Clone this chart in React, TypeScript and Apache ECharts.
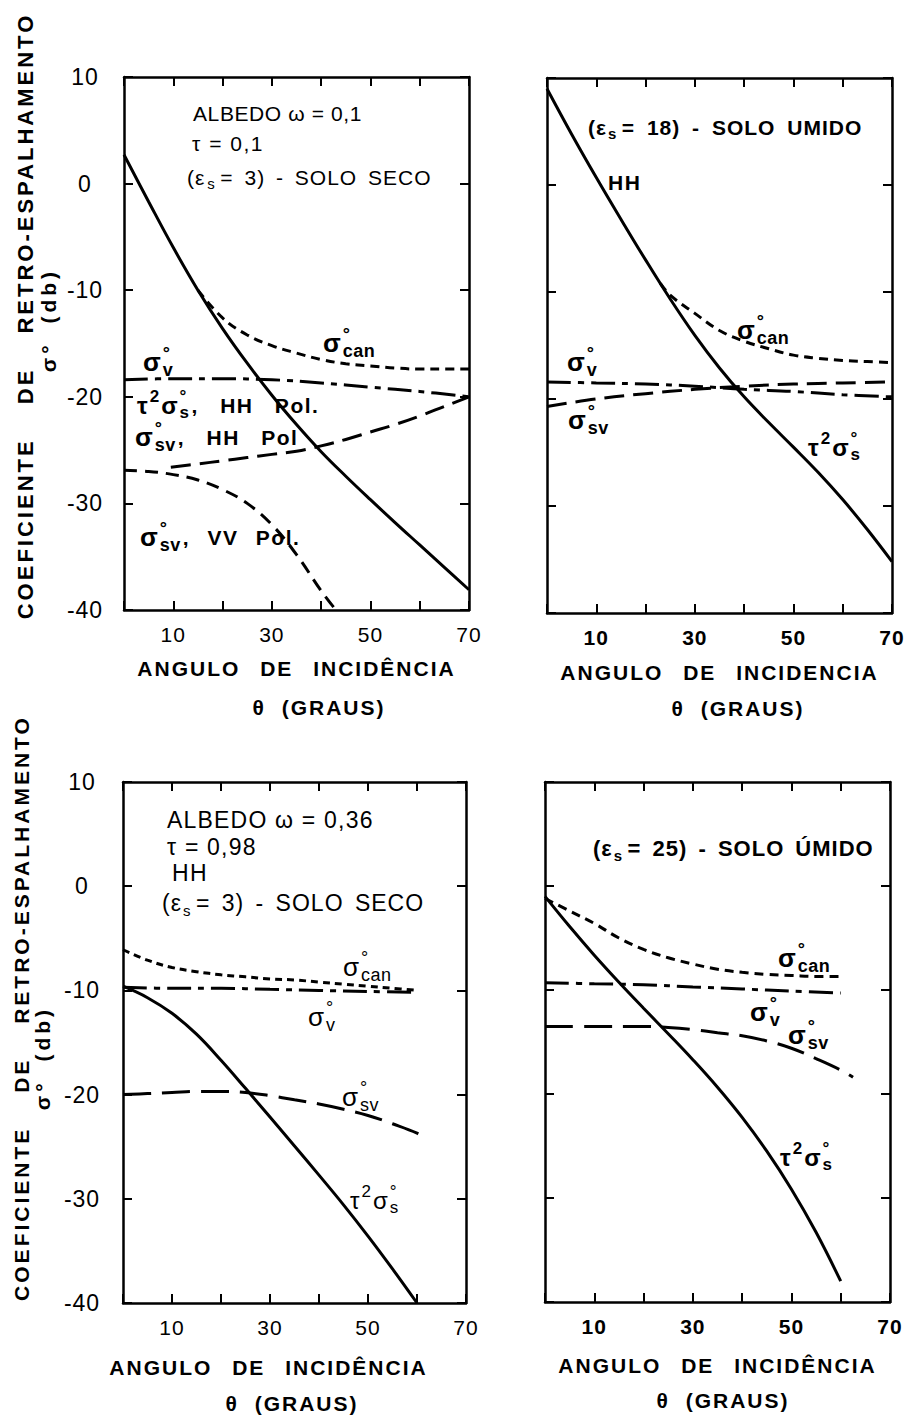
import React, { useEffect, useRef } from 'react';
import * as echarts from 'echarts';

const FONT = '"Liberation Sans", "DejaVu Sans", Arial, sans-serif';

// ---- axes ----
const X_MIN = 0;
const X_MAX = 70;
const X_STEP = 10;
const X_LABELS = [10, 30, 50, 70];
const Y_MIN = -40;
const Y_MAX = 10;
const Y_STEP = 10;

// ---- Panel A: solo seco (εs = 3), albedo 0,1, τ = 0,1 ----
const A_tau2SigmaS = [[0, 2.7], [5, -1.7], [10, -6.0], [15, -10.0], [20, -13.6], [25, -16.85], [30, -19.85], [35, -22.6], [40, -25.15], [45, -27.45], [50, -29.65], [55, -31.8], [60, -33.9], [65, -36.0], [70, -38.1]];
const A_sigmaCan = [[15, -10.0], [20, -12.6], [25, -14.2], [30, -15.2], [35, -15.9], [40, -16.5], [45, -16.9], [50, -17.1], [55, -17.3], [60, -17.4], [65, -17.4], [70, -17.4]];
const A_sigmaV = [[0, -18.4], [10, -18.3], [20, -18.3], [30, -18.4], [40, -18.7], [50, -19.1], [60, -19.5], [70, -20.0]];
const A_sigmaSvHH = [[9.5, -26.6], [15, -26.3], [20, -26.0], [25, -25.7], [30, -25.4], [35, -25.1], [40, -24.6], [45, -24.0], [50, -23.3], [55, -22.6], [60, -21.8], [65, -20.9], [70, -20.0]];
const A_sigmaSvVV = [[0, -26.9], [5, -27.0], [10, -27.3], [15, -27.8], [20, -28.7], [25, -30.0], [30, -32.0], [35, -34.8], [40, -38.2], [43, -40.0]];

// ---- Panel B: solo úmido (εs = 18), HH ----
const B_tau2SigmaS = [[0, 9.0], [5, 4.75], [10, 0.7], [15, -3.2], [20, -7.0], [25, -10.65], [30, -14.05], [35, -17.1], [40, -19.8], [45, -22.2], [50, -24.5], [55, -26.85], [60, -29.4], [65, -32.2], [70, -35.2]];
const B_sigmaCan = [[23, -9.2], [25, -10.3], [30, -12.0], [35, -13.6], [40, -14.6], [45, -15.3], [50, -15.9], [55, -16.2], [60, -16.4], [65, -16.5], [70, -16.6]];
const B_sigmaV = [[0, -18.4], [10, -18.5], [20, -18.6], [30, -18.8], [40, -19.1], [50, -19.3], [60, -19.6], [70, -19.8]];
const B_sigmaSv = [[0, -20.7], [10, -20.0], [20, -19.5], [30, -19.1], [40, -18.8], [50, -18.6], [60, -18.5], [70, -18.4]];

// ---- Panel C: solo seco (εs = 3), albedo 0,36, τ = 0,98, HH ----
const C_tau2SigmaS = [[0, -9.6], [5, -10.7], [10, -12.2], [15, -14.2], [20, -16.7], [25, -19.4], [30, -22.15], [35, -24.93], [40, -27.73], [45, -30.58], [50, -33.58], [55, -36.73], [60, -40.0]];
const C_sigmaCan = [[0, -6.1], [5, -7.1], [10, -7.8], [15, -8.2], [20, -8.5], [25, -8.7], [30, -8.9], [35, -9.0], [40, -9.2], [45, -9.4], [50, -9.6], [55, -9.8], [60, -10.0]];
const C_sigmaV = [[0, -9.7], [10, -9.8], [20, -9.8], [30, -9.9], [40, -10.0], [50, -10.1], [60, -10.2]];
const C_sigmaSv = [[0, -20.0], [5, -19.9], [10, -19.8], [15, -19.7], [20, -19.7], [25, -19.8], [30, -20.1], [35, -20.5], [40, -20.9], [45, -21.4], [50, -22.0], [55, -22.8], [60, -23.7], [62, -24.3]];

// ---- Panel D: solo úmido (εs = 25) ----
const D_tau2SigmaS = [[0, -1.0], [5, -3.9], [10, -6.65], [15, -9.25], [20, -11.75], [25, -14.2], [30, -16.7], [35, -19.35], [40, -22.25], [45, -25.5], [50, -29.15], [55, -33.3], [60, -38.0]];
const D_sigmaCan = [[0, -1.2], [5, -2.4], [10, -3.6], [15, -5.0], [20, -6.1], [25, -6.9], [30, -7.5], [35, -8.0], [40, -8.3], [45, -8.5], [50, -8.6], [55, -8.7], [60, -8.7]];
const D_sigmaV = [[0, -9.3], [10, -9.4], [20, -9.5], [30, -9.7], [40, -9.9], [50, -10.1], [60, -10.3]];
const D_sigmaSv = [[0, -13.5], [10, -13.5], [20, -13.5], [25, -13.6], [30, -13.8], [35, -14.1], [40, -14.4], [45, -14.9], [50, -15.6], [55, -16.6], [60, -17.7], [62.5, -18.4]];

const SOLID = 'solid';
const DASH_CAN = [9, 6];
const DASH_V = [24, 7, 6, 7];
const DASH_SV = [20, 9];
const DASH_SV_LONG = [28, 11];
const DASH_VV = [13, 8];

type Tok = { t?: string; fs?: number; sup?: string; sub?: string; gap?: number; ls?: number; ws?: number };
type FOpt = { fs: number; weight?: string; small?: number; ls?: number };

export default function App() {
  const ref = useRef<HTMLDivElement>(null);

  useEffect(() => {
    if (!ref.current) return;
    const chart = echarts.init(ref.current, undefined, { renderer: 'svg' });
    const spacing = new Map<string, [number, number]>();
    const ctx = document.createElement('canvas').getContext('2d')!;
    const measure = (s: string, fs: number, w: string) => {
      ctx.font = `${w} ${fs}px ${FONT}`;
      return ctx.measureText(s).width;
    };

    const txt = (s: string, x: number, y: number, fs: number, weight: string, align = 'left') => ({
      type: 'text',
      x,
      y,
      silent: true,
      style: {
        text: s,
        fontSize: fs,
        fontFamily: FONT,
        fontWeight: weight,
        fill: '#000',
        textAlign: align,
        verticalAlign: 'middle',
        textVerticalAlign: 'middle',
      },
    });

    const formula = (x: number, y: number, toks: Tok[], o: FOpt) => {
      const weight = o.weight ?? 'normal';
      const small = o.small ?? 17;
      const children: any[] = [];
      let cx = x;
      for (const tk of toks) {
        cx += tk.gap ?? 0;
        const fs = tk.fs ?? o.fs;
        if (tk.t) {
          const ls = tk.ls ?? o.ls ?? 1;
          const ws = tk.ws ?? 0;
          spacing.set(tk.t, [ls, ws]);
          children.push(txt(tk.t, cx, y, fs, weight));
          cx += measure(tk.t, fs, weight) + ls * [...tk.t].length + ws * (tk.t.split(' ').length - 1);
        }
        if (tk.sup || tk.sub) {
          let w = 0;
          if (tk.sup) {
            spacing.set(tk.sup, [0, 0]);
            children.push(txt(tk.sup, cx + 1, y - 0.36 * fs, small, weight));
            w = Math.max(w, measure(tk.sup, small, weight));
          }
          if (tk.sub) {
            spacing.set(tk.sub, [0.5, 0]);
            children.push(txt(tk.sub, cx + 1, y + 0.32 * fs, small, weight));
            w = Math.max(w, measure(tk.sub, small, weight) + 0.5 * tk.sub.length);
          }
          cx += w + 3;
        }
      }
      return { type: 'group', children };
    };

    const sigma = (x: number, y: number, sub: string, weight: string) =>
      formula(x, y, [{ t: 'σ', fs: 26, sup: '°', sub }], { fs: 26, weight, small: 18 });
    const tauSigma = (x: number, y: number, weight: string, tail?: Tok) =>
      formula(x, y, [{ t: 'τ', fs: 24, sup: '2' }, { t: 'σ', fs: 24, sup: '°', sub: 's' }, ...(tail ? [tail] : [])], {
        fs: 24,
        weight,
        small: 17,
      });

    const grids = [
      { left: 124, top: 77, width: 345, height: 533 },
      { left: 547, top: 78, width: 345, height: 535 },
      { left: 123, top: 782, width: 343, height: 521 },
      { left: 545, top: 782, width: 345, height: 520 },
    ];
    const panels = [
      { bold: false, yLabels: true, yMargin: 39, name: 'ANGULO DE INCIDÊNCIA', nameGap: 58, namePad: [0, 0, 0, 0] },
      { bold: true, yLabels: false, yMargin: 39, name: 'ANGULO DE INCIDENCIA', nameGap: 59, namePad: [0, 0, 0, 0] },
      { bold: false, yLabels: true, yMargin: 41, name: 'ANGULO DE INCIDÊNCIA', nameGap: 64, namePad: [0, 52, 0, 0] },
      { bold: true, yLabels: false, yMargin: 39, name: 'ANGULO DE INCIDÊNCIA', nameGap: 63, namePad: [0, 0, 0, 0] },
    ];
    const mkLine = () => ({ show: true, onZero: false, lineStyle: { color: '#000', width: 2.5, opacity: 1 } });
    const mkTick = () => ({ show: true, inside: true, length: 9, lineStyle: { color: '#000', width: 2, opacity: 1 } });

    const xAxis: any[] = [];
    const yAxis: any[] = [];
    panels.forEach((p, i) => {
      spacing.set(p.name, [2, 12]);
      xAxis.push({
        gridIndex: i,
        type: 'value',
        min: X_MIN,
        max: X_MAX,
        interval: X_STEP,
        position: 'bottom',
        axisLine: mkLine(),
        axisTick: mkTick(),
        splitLine: { show: false },
        axisLabel: {
          show: true,
          color: '#000',
          fontFamily: FONT,
          fontSize: 21,
          fontWeight: p.bold ? 'bold' : 'normal',
          margin: 14,
          formatter: (v: number) => (X_LABELS.includes(v) ? String(v) : ''),
        },
        name: p.name,
        nameLocation: 'middle',
        nameGap: p.nameGap,
        nameTextStyle: {
          color: '#000',
          fontFamily: FONT,
          fontSize: 21,
          fontWeight: 'bold',
          verticalAlign: 'middle',
          padding: p.namePad,
        },
      });
      xAxis.push({
        gridIndex: i,
        type: 'value',
        min: X_MIN,
        max: X_MAX,
        interval: X_STEP,
        position: 'top',
        axisLine: mkLine(),
        axisTick: mkTick(),
        splitLine: { show: false },
        axisLabel: { show: false },
      });
      yAxis.push({
        gridIndex: i,
        type: 'value',
        min: Y_MIN,
        max: Y_MAX,
        interval: Y_STEP,
        position: 'left',
        axisLine: mkLine(),
        axisTick: mkTick(),
        splitLine: { show: false },
        axisLabel: {
          show: p.yLabels,
          color: '#000',
          fontFamily: FONT,
          fontSize: 23,
          align: 'center',
          margin: p.yMargin,
        },
      });
      yAxis.push({
        gridIndex: i,
        type: 'value',
        min: Y_MIN,
        max: Y_MAX,
        interval: Y_STEP,
        position: 'right',
        axisLine: mkLine(),
        axisTick: mkTick(),
        splitLine: { show: false },
        axisLabel: { show: false },
      });
    });

    const line = (name: string, data: number[][], p: number, type: any, width = 3) => ({
      type: 'line',
      name,
      data,
      xAxisIndex: 2 * p,
      yAxisIndex: 2 * p,
      showSymbol: false,
      symbol: 'none',
      smooth: 0.4,
      silent: true,
      lineStyle: { color: '#000', width, type, cap: 'butt' },
      z: 3,
    });

    const series = [
      line('τ²σs° (A)', A_tau2SigmaS, 0, SOLID),
      line('σcan° (A)', A_sigmaCan, 0, DASH_CAN),
      line('σv° (A)', A_sigmaV, 0, DASH_V),
      line('σsv° HH (A)', A_sigmaSvHH, 0, DASH_SV),
      line('σsv° VV (A)', A_sigmaSvVV, 0, DASH_VV),
      line('τ²σs° (B)', B_tau2SigmaS, 1, SOLID),
      line('σcan° (B)', B_sigmaCan, 1, DASH_CAN),
      line('σv° (B)', B_sigmaV, 1, DASH_V),
      line('σsv° (B)', B_sigmaSv, 1, DASH_SV),
      line('τ²σs° (C)', C_tau2SigmaS, 2, SOLID),
      line('σcan° (C)', C_sigmaCan, 2, [7, 5]),
      line('σv° (C)', C_sigmaV, 2, DASH_V),
      line('σsv° (C)', C_sigmaSv, 2, DASH_SV_LONG),
      line('τ²σs° (D)', D_tau2SigmaS, 3, SOLID),
      line('σcan° (D)', D_sigmaCan, 3, DASH_CAN),
      line('σv° (D)', D_sigmaV, 3, DASH_V),
      line('σsv° (D)', D_sigmaSv, 3, DASH_SV_LONG),
    ];

    const yTitle = (x: number, y: number, text: string, fs: number, ls: number, ws: number, weight = 'bold') => {
      spacing.set(text, [ls, ws]);
      return { ...txt(text, x, y, fs, weight, 'center'), rotation: Math.PI / 2 };
    };
    const centered = (x: number, y: number, text: string, fs: number, ls: number, ws: number) => {
      spacing.set(text, [ls, ws]);
      return txt(text, x, y, fs, 'bold', 'center');
    };

    const N = 'normal';
    const B = 'bold';
    const graphics: any[] = [
      // y titles
      yTitle(25, 316, 'COEFICIENTE DE RETRO-ESPALHAMENTO', 22, 3, 28),
      yTitle(48, 320, 'σ° (db)', 21, 9, 10),
      yTitle(21, 1008, 'COEFICIENTE DE RETRO-ESPALHAMENTO', 21, 3, 25),
      yTitle(42, 1058, 'σ° (db)', 21, 4, 8),
      // θ (GRAUS)
      centered(319, 707, 'θ (GRAUS)', 21, 2, 8),
      centered(738, 708, 'θ (GRAUS)', 21, 2, 8),
      centered(292, 1403, 'θ (GRAUS)', 21, 2, 8),
      centered(723, 1400, 'θ (GRAUS)', 21, 2, 8),
      // Panel A
      formula(193, 113, [{ t: 'ALBEDO ω = 0,1' }], { fs: 21, weight: N, ls: 0.6 }),
      formula(192, 143, [{ t: 'τ = 0,1' }], { fs: 21, weight: N, ls: 1.5 }),
      formula(187, 177, [{ t: '(ε', sub: 's' }, { t: '= 3) - SOLO SECO', gap: 3, ws: 4 }], { fs: 21, weight: N, ls: 1.5, small: 15 }),
      sigma(323, 343, 'can', B),
      sigma(143, 362, 'v', B),
      tauSigma(137, 405, B, { t: ', HH Pol.', fs: 21, ws: 14, ls: 1.5 }),
      formula(135, 437, [{ t: 'σ', fs: 26, sup: '°', sub: 'sv' }, { t: ', HH Pol', fs: 21, ws: 14, ls: 1.5 }], { fs: 26, weight: B, small: 18 }),
      formula(140, 537, [{ t: 'σ', fs: 26, sup: '°', sub: 'sv' }, { t: ', VV Pol.', fs: 21, ws: 10, ls: 1.5 }], { fs: 26, weight: B, small: 18 }),
      // Panel B
      formula(588, 127, [{ t: '(ε', sub: 's' }, { t: '= 18) - SOLO UMIDO', gap: 3, ws: 5 }], { fs: 21, weight: B, ls: 1, small: 15 }),
      formula(608, 182, [{ t: 'HH' }], { fs: 21, weight: B, ls: 1 }),
      sigma(737, 330, 'can', B),
      sigma(567, 362, 'v', B),
      sigma(568, 420, 'sv', B),
      tauSigma(808, 447, B),
      // Panel C
      formula(167, 820, [{ t: 'ALBEDO ω = 0,36' }], { fs: 23, weight: N, ls: 1.2 }),
      formula(167, 847, [{ t: 'τ = 0,98' }], { fs: 23, weight: N, ls: 1.2 }),
      formula(172, 873, [{ t: 'HH' }], { fs: 23, weight: N, ls: 1.5 }),
      formula(162, 903, [{ t: '(ε', sub: 's' }, { t: '= 3) - SOLO SECO', gap: 3, ws: 4 }], { fs: 23, weight: N, ls: 1, small: 15 }),
      sigma(343, 967, 'can', N),
      sigma(308, 1017, 'v', N),
      sigma(342, 1097, 'sv', N),
      tauSigma(350, 1200, N),
      // Panel D
      formula(593, 848, [{ t: '(ε', sub: 's' }, { t: '= 25) - SOLO ÚMIDO', gap: 3, ws: 4 }], { fs: 22, weight: B, ls: 1, small: 15 }),
      sigma(778, 958, 'can', B),
      sigma(750, 1012, 'v', B),
      sigma(788, 1035, 'sv', B),
      tauSigma(780, 1157, B),
    ];

    chart.setOption({
      animation: false,
      backgroundColor: '#ffffff',
      grid: grids.map((g) => ({ ...g, containLabel: false })),
      xAxis,
      yAxis,
      series,
      graphic: { elements: graphics },
    });

    const apply = () => {
      const root = ref.current;
      if (!root) return;
      root.querySelectorAll('text').forEach((t) => {
        const key = t.textContent || '';
        const s = spacing.get(key) ?? [1, 0];
        (t as SVGTextElement).style.letterSpacing = `${s[0]}px`;
        (t as SVGTextElement).style.wordSpacing = `${s[1]}px`;
      });
    };
    apply();
    chart.on('finished', apply);
    const raf = requestAnimationFrame(apply);
    const tm = setTimeout(apply, 200);

    return () => {
      cancelAnimationFrame(raf);
      clearTimeout(tm);
      chart.dispose();
    };
  }, []);

  return (
    <div
      ref={ref}
      style={{ position: 'absolute', left: 0, top: 0, width: 910, height: 1415, background: '#fff' }}
    />
  );
}
